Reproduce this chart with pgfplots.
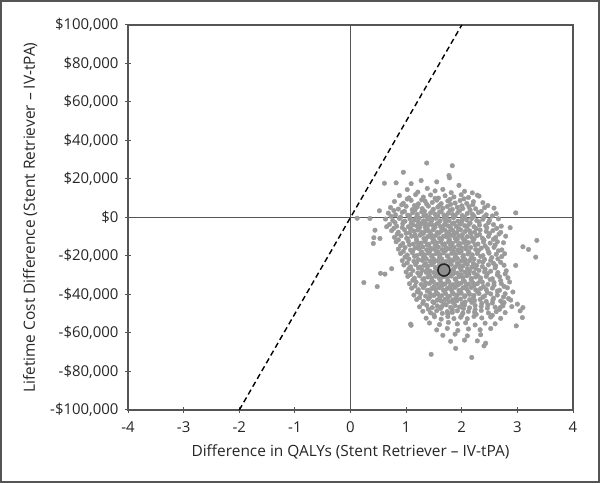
\documentclass[border=0pt]{standalone}
\usepackage{pgfplots}
\pgfplotsset{compat=1.18}
\usepackage{fontspec}
\setmainfont{Open Sans}
\definecolor{txt}{HTML}{262626}
\definecolor{frame}{HTML}{555555}
\definecolor{dots}{HTML}{9A9A9A}
\begin{document}
\begin{tikzpicture}
\path[use as bounding box] (0,0) rectangle (600bp,483bp);
\draw[frame, line width=2bp] (1bp,1bp) rectangle (599bp,482bp);
\begin{axis}[
  at={(128bp,73bp)}, anchor=south west,
  scale only axis, width=445bp, height=385bp,
  xmin=-4, xmax=4, ymin=-100, ymax=100,
  xtick={-4,-3,...,4},
  xticklabels={-4,-3,-2,-1,0,1,2,3,4},
  ytick={-100,-80,...,100},
  yticklabels={{-\$100,000},{-\$80,000},{-\$60,000},{-\$40,000},{-\$20,000},{\$0},{\$20,000},{\$40,000},{\$60,000},{\$80,000},{\$100,000}},
  tick align=center, major tick length=6bp,
  xtick pos=bottom, ytick pos=left,
  axis line style={frame, line width=1.4bp},
  tick style={frame, line width=1bp},
  tick label style={font=\fontsize{15}{18}\selectfont, text=txt},
  xticklabel style={yshift=-5bp},
  yticklabel style={xshift=-3bp},
  label style={font=\fontsize{15.5}{18}\selectfont, text=txt},
  xlabel={Difference in QALYs (Stent Retriever – IV-tPA)},
  ylabel={Lifetime Cost Difference (Stent Retriever – IV-tPA)},
  xlabel style={yshift=-5bp},
  ylabel style={yshift=6bp},
  clip=true,
]
\addplot[frame, line width=1.2bp] coordinates {(0,-100) (0,100)};
\addplot[frame, line width=1.2bp] coordinates {(-4,0) (4,0)};
\addplot[black, line width=1.4bp, dash pattern=on 5.5bp off 3.5bp] coordinates {(-2,-100) (2,100)};
\addplot[dots, only marks, mark=*, mark size=2.3bp, mark options={draw=none, fill=dots}] coordinates {
(1.02,14.5)(1.21,13.2)(1.38,15.1)(1.52,13.8)(1.66,14.6)(1.81,12.9)(2.05,13.6)
(0.88,11.4)(1.05,10.2)(1.17,11.9)(1.31,10.6)(1.44,11.7)(1.58,10.1)(1.70,11.3)(1.86,10.7)(1.99,11.8)(2.12,10.4)(2.31,11.1)
(0.79,8.3)(0.95,7.4)(1.09,8.9)(1.22,7.1)(1.34,8.5)(1.47,7.8)(1.55,9.0)(1.63,7.2)(1.75,8.6)(1.88,7.5)(1.97,8.8)(2.09,7.3)(2.21,8.2)(2.38,7.7)
(0.72,5.2)(0.86,4.4)(1.00,5.8)(1.11,4.1)(1.20,5.5)(1.29,4.6)(1.40,5.9)(1.49,4.3)(1.57,5.4)(1.66,4.8)(1.74,5.7)(1.83,4.2)(1.92,5.3)(2.02,4.7)(2.13,5.6)(2.25,4.5)(2.41,5.1)(2.58,4.9)
(0.68,2.3)(0.81,1.4)(0.93,2.7)(1.03,1.2)(1.12,2.5)(1.20,1.6)(1.28,2.9)(1.36,1.1)(1.44,2.4)(1.52,1.7)(1.60,2.8)(1.68,1.3)(1.76,2.2)(1.84,1.5)(1.93,2.6)(2.01,1.0)(2.10,2.1)(2.19,1.8)(2.30,2.6)(2.44,1.4)(2.62,2.0)
(0.63,-0.8)(0.76,-1.6)(0.88,-0.5)(0.98,-1.9)(1.07,-0.7)(1.15,-1.4)(1.23,-0.3)(1.31,-1.8)(1.38,-0.9)(1.46,-1.2)(1.53,-0.4)(1.61,-1.7)(1.69,-0.6)(1.77,-1.5)(1.85,-0.2)(1.93,-1.9)(2.01,-0.8)(2.09,-1.3)(2.18,-0.5)(2.27,-1.6)(2.38,-0.9)(2.50,-1.4)(2.66,-0.7)
(0.70,-3.6)(0.83,-4.5)(0.94,-3.2)(1.04,-4.8)(1.12,-3.9)(1.19,-4.3)(1.27,-3.4)(1.34,-4.9)(1.41,-3.7)(1.48,-4.1)(1.55,-3.3)(1.62,-4.7)(1.69,-3.8)(1.76,-4.4)(1.83,-3.1)(1.90,-4.6)(1.97,-3.5)(2.05,-4.2)(2.13,-3.6)(2.22,-4.8)(2.32,-3.9)(2.43,-4.3)(2.57,-3.7)(2.71,-4.5)
(0.74,-6.8)(0.86,-7.6)(0.97,-6.4)(1.06,-7.9)(1.14,-7.0)(1.21,-6.5)(1.28,-7.7)(1.35,-6.9)(1.42,-7.4)(1.49,-6.3)(1.56,-7.8)(1.63,-7.1)(1.70,-6.6)(1.77,-7.5)(1.84,-6.7)(1.91,-7.9)(1.98,-6.4)(2.06,-7.3)(2.14,-6.9)(2.23,-7.6)(2.33,-6.5)(2.44,-7.2)(2.56,-6.8)(2.70,-7.7)
(0.79,-10.3)(0.91,-9.5)(1.01,-10.8)(1.10,-9.7)(1.18,-10.5)(1.25,-9.2)(1.32,-10.9)(1.39,-9.9)(1.46,-10.4)(1.53,-9.4)(1.60,-10.7)(1.67,-9.8)(1.74,-10.2)(1.81,-9.3)(1.88,-10.6)(1.95,-9.6)(2.02,-10.9)(2.10,-9.9)(2.18,-10.3)(2.27,-9.5)(2.37,-10.7)(2.48,-9.8)(2.61,-10.4)
(0.82,-12.6)(0.94,-13.5)(1.04,-12.3)(1.13,-13.8)(1.20,-12.9)(1.27,-13.3)(1.34,-12.4)(1.41,-13.9)(1.48,-12.7)(1.55,-13.2)(1.62,-12.5)(1.69,-13.7)(1.76,-12.8)(1.83,-13.4)(1.90,-12.2)(1.97,-13.6)(2.04,-12.9)(2.12,-13.1)(2.20,-12.4)(2.29,-13.8)(2.39,-12.7)(2.51,-13.3)(2.64,-12.6)
(0.86,-16.4)(0.98,-15.6)(1.08,-16.9)(1.16,-15.8)(1.23,-16.2)(1.30,-15.3)(1.37,-16.8)(1.44,-15.9)(1.51,-16.5)(1.58,-15.4)(1.65,-16.7)(1.72,-15.7)(1.79,-16.3)(1.86,-15.5)(1.93,-16.9)(2.00,-15.8)(2.08,-16.4)(2.16,-15.6)(2.25,-16.6)(2.35,-15.9)(2.46,-16.2)(2.58,-15.5)(2.72,-16.8)
(0.90,-18.7)(1.02,-19.5)(1.11,-18.3)(1.19,-19.8)(1.26,-18.9)(1.33,-19.4)(1.40,-18.5)(1.47,-19.7)(1.54,-18.8)(1.61,-19.3)(1.68,-18.4)(1.75,-19.9)(1.82,-18.6)(1.89,-19.2)(1.96,-18.3)(2.03,-19.6)(2.11,-18.9)(2.19,-19.4)(2.28,-18.7)(2.38,-19.8)(2.49,-18.5)(2.62,-19.1)(2.77,-18.8)
(0.93,-22.4)(1.05,-21.6)(1.14,-22.8)(1.22,-21.9)(1.29,-22.3)(1.36,-21.4)(1.43,-22.7)(1.50,-21.8)(1.57,-22.5)(1.64,-21.5)(1.71,-22.9)(1.78,-21.7)(1.85,-22.2)(1.92,-21.3)(1.99,-22.6)(2.06,-21.9)(2.14,-22.4)(2.22,-21.6)(2.31,-22.8)(2.41,-21.8)(2.52,-22.3)(2.65,-21.5)
(0.96,-24.7)(1.08,-25.6)(1.17,-24.4)(1.25,-25.8)(1.32,-24.9)(1.39,-25.3)(1.46,-24.5)(1.53,-25.9)(1.60,-24.6)(1.74,-25.4)(1.81,-24.3)(1.88,-25.7)(1.95,-24.8)(2.02,-25.2)(2.10,-24.4)(2.18,-25.8)(2.27,-24.9)(2.37,-25.5)(2.48,-24.6)(2.61,-25.1)(2.76,-24.8)
(1.00,-28.3)(1.12,-27.6)(1.21,-28.8)(1.29,-27.4)(1.36,-28.5)(1.43,-27.9)(1.50,-28.6)(1.57,-27.5)(1.78,-28.2)(1.85,-27.7)(1.92,-28.9)(1.99,-27.3)(2.06,-28.4)(2.14,-27.8)(2.22,-28.7)(2.31,-27.5)(2.41,-28.3)(2.52,-27.9)(2.65,-28.6)(2.80,-27.7)
(1.03,-30.6)(1.15,-31.5)(1.24,-30.3)(1.32,-31.8)(1.39,-30.9)(1.46,-31.4)(1.53,-30.5)(1.60,-31.7)(1.67,-30.8)(1.74,-31.3)(1.81,-30.4)(1.88,-31.9)(1.95,-30.7)(2.02,-31.2)(2.09,-30.3)(2.17,-31.6)(2.25,-30.9)(2.34,-31.4)(2.44,-30.6)(2.55,-31.8)(2.68,-30.8)(2.83,-31.3)
(1.06,-34.4)(1.18,-33.6)(1.27,-34.8)(1.35,-33.9)(1.42,-34.3)(1.49,-33.4)(1.56,-34.7)(1.63,-33.8)(1.70,-34.5)(1.77,-33.5)(1.84,-34.9)(1.91,-33.7)(1.98,-34.2)(2.05,-33.3)(2.12,-34.6)(2.20,-33.9)(2.28,-34.4)(2.37,-33.6)(2.47,-34.8)(2.58,-33.8)(2.71,-34.3)(2.86,-33.5)
(1.10,-36.7)(1.22,-37.5)(1.31,-36.4)(1.39,-37.8)(1.46,-36.9)(1.53,-37.3)(1.60,-36.5)(1.67,-37.7)(1.74,-36.8)(1.81,-37.4)(1.88,-36.3)(1.95,-37.9)(2.02,-36.6)(2.09,-37.2)(2.17,-36.4)(2.25,-37.6)(2.34,-36.9)(2.44,-37.4)(2.55,-36.7)(2.68,-37.8)(2.82,-36.5)
(1.14,-40.3)(1.26,-39.6)(1.35,-40.8)(1.43,-39.4)(1.50,-40.5)(1.57,-39.8)(1.64,-40.6)(1.71,-39.5)(1.78,-40.9)(1.85,-39.7)(1.92,-40.2)(1.99,-39.3)(2.06,-40.7)(2.14,-39.9)(2.22,-40.4)(2.31,-39.5)(2.41,-40.8)(2.52,-39.7)(2.64,-40.3)(2.78,-39.6)
(1.19,-42.6)(1.31,-43.5)(1.40,-42.3)(1.48,-43.8)(1.56,-42.9)(1.63,-43.4)(1.70,-42.5)(1.77,-43.7)(1.84,-42.8)(1.91,-43.3)(1.98,-42.4)(2.06,-43.9)(2.14,-42.7)(2.23,-43.2)(2.33,-42.6)(2.44,-43.6)(2.56,-42.8)(2.70,-43.4)(2.88,-42.9)
(1.24,-46.4)(1.37,-45.6)(1.47,-46.8)(1.56,-45.9)(1.64,-46.3)(1.72,-45.4)(1.80,-46.7)(1.88,-45.8)(1.96,-46.5)(2.05,-45.5)(2.14,-46.9)(2.24,-45.7)(2.35,-46.2)(2.47,-45.4)(2.60,-46.6)(2.74,-45.9)(2.90,-46.3)
(1.30,-48.7)(1.44,-49.5)(1.55,-48.4)(1.65,-49.8)(1.74,-48.9)(1.83,-49.3)(1.92,-48.5)(2.02,-49.7)(2.12,-48.8)(2.23,-49.2)(2.35,-48.3)(2.48,-49.6)(2.62,-48.9)(2.78,-49.4)
(1.36,-52.3)(1.51,-51.6)(1.63,-52.8)(1.75,-51.5)(1.86,-52.5)(1.98,-51.8)(2.10,-52.6)(2.22,-51.4)(2.36,-52.2)(2.52,-51.7)(2.70,-52.4)
(1.42,-54.8)(1.60,-55.6)(1.76,-54.5)(1.92,-55.3)(2.07,-54.7)(2.24,-55.8)(2.42,-54.9)(2.60,-55.2)
(1.55,-58.4)(1.74,-57.6)(1.93,-58.7)(2.12,-57.9)(2.33,-58.3)(2.52,-57.7)
(1.66,-61.2)(1.88,-60.6)(2.10,-61.5)(2.34,-60.9)
(1.80,-64.3)(2.05,-63.7)(2.28,-64.1)
(1.02,9.6)(1.28,9.2)(1.52,9.9)(1.79,9.4)(2.04,9.7)
(0.92,6.6)(1.15,6.2)(1.37,6.9)(1.60,6.3)(1.80,6.8)(2.00,6.1)(2.20,6.7)
(0.78,3.6)(0.97,3.2)(1.16,3.9)(1.33,3.3)(1.48,3.8)(1.63,3.1)(1.79,3.7)(1.96,3.4)(2.15,3.9)(2.35,3.2)
(0.73,0.6)(0.90,0.2)(1.06,0.9)(1.19,0.3)(1.32,0.8)(1.42,0.1)(1.57,0.7)(1.72,0.4)(1.88,0.9)(2.05,0.2)(2.22,0.7)(2.40,0.3)(2.55,0.8)
(0.80,-2.6)(0.95,-2.2)(1.09,-2.9)(1.22,-2.3)(1.34,-2.8)(1.45,-2.1)(1.58,-2.7)(1.71,-2.4)(1.86,-2.9)(2.00,-2.2)(2.15,-2.8)(2.31,-2.3)(2.48,-2.7)
(0.78,-5.6)(0.93,-5.2)(1.08,-5.9)(1.24,-5.3)(1.38,-5.8)(1.52,-5.1)(1.66,-5.7)(1.80,-5.4)(1.94,-5.9)(2.09,-5.2)(2.26,-5.8)(2.45,-5.3)(2.63,-5.6)
(0.84,-8.6)(1.00,-8.2)(1.16,-8.9)(1.31,-8.3)(1.45,-8.8)(1.59,-8.1)(1.73,-8.7)(1.87,-8.4)(2.01,-8.9)(2.16,-8.2)(2.32,-8.8)(2.50,-8.3)(2.67,-8.6)
(0.86,-11.6)(1.03,-11.2)(1.19,-11.9)(1.35,-11.3)(1.50,-11.8)(1.64,-11.1)(1.78,-11.7)(1.92,-11.4)(2.06,-11.9)(2.22,-11.2)(2.40,-11.8)(2.57,-11.3)
(0.90,-14.6)(1.06,-14.2)(1.22,-14.9)(1.38,-14.3)(1.52,-14.8)(1.66,-14.1)(1.80,-14.7)(1.94,-14.4)(2.08,-14.9)(2.24,-14.2)(2.42,-14.8)(2.60,-14.3)
(0.95,-17.6)(1.12,-17.2)(1.28,-17.9)(1.43,-17.3)(1.57,-17.8)(1.71,-17.1)(1.85,-17.7)(1.99,-17.4)(2.13,-17.9)(2.30,-17.2)(2.48,-17.8)(2.66,-17.3)
(0.98,-20.6)(1.15,-20.2)(1.31,-20.9)(1.46,-20.3)(1.60,-20.8)(1.74,-20.1)(1.88,-20.7)(2.02,-20.4)(2.17,-20.9)(2.34,-20.2)(2.54,-20.8)(2.72,-20.3)
(1.02,-23.6)(1.19,-23.2)(1.35,-23.9)(1.50,-23.3)(1.64,-23.8)(1.78,-23.1)(1.92,-23.7)(2.06,-23.4)(2.21,-23.9)(2.38,-23.2)(2.57,-23.8)(2.70,-23.3)
(1.05,-26.6)(1.22,-26.2)(1.38,-26.9)(1.53,-26.3)(1.85,-26.8)(1.97,-26.1)(2.10,-26.7)(2.25,-26.4)(2.42,-26.9)(2.60,-26.2)
(1.08,-29.6)(1.26,-29.2)(1.42,-29.9)(1.57,-29.3)(1.71,-29.8)(1.85,-29.1)(1.99,-29.7)(2.13,-29.4)(2.28,-29.9)(2.46,-29.2)(2.64,-29.8)(2.78,-29.3)
(1.12,-32.6)(1.30,-32.2)(1.46,-32.9)(1.61,-32.3)(1.75,-32.8)(1.89,-32.1)(2.03,-32.7)(2.17,-32.4)(2.33,-32.9)(2.51,-32.2)(2.70,-32.8)
(1.16,-35.6)(1.34,-35.2)(1.50,-35.9)(1.65,-35.3)(1.79,-35.8)(1.93,-35.1)(2.07,-35.7)(2.22,-35.4)(2.39,-35.9)(2.58,-35.2)(2.76,-35.8)
(1.20,-38.6)(1.38,-38.2)(1.54,-38.9)(1.69,-38.3)(1.83,-38.8)(1.97,-38.1)(2.12,-38.7)(2.28,-38.4)(2.46,-38.9)(2.64,-38.2)
(1.24,-41.6)(1.43,-41.2)(1.60,-41.9)(1.75,-41.3)(1.90,-41.8)(2.05,-41.1)(2.21,-41.7)(2.38,-41.4)(2.57,-41.9)(2.75,-41.3)
(1.30,-44.6)(1.50,-44.2)(1.68,-44.9)(1.85,-44.3)(2.01,-44.8)(2.18,-44.1)(2.36,-44.7)(2.55,-44.4)(2.74,-44.9)
(1.40,-47.6)(1.62,-47.2)(1.83,-47.9)(2.03,-47.3)(2.24,-47.8)(2.46,-47.1)(2.68,-47.7)
(1.50,-50.6)(1.75,-50.2)(2.00,-50.9)(2.26,-50.3)(2.55,-50.8)
(1.37,28.3)(1.83,26.9)(0.95,23.5)(1.77,21.8)(1.78,20.6)(0.61,17.8)(0.82,18.0)(1.09,17.6)(1.27,19.2)(1.55,18.5)(1.95,16.7)
(2.19,12.8)(2.28,11.6)(2.47,6.2)(2.97,2.4)(0.52,3.5)(0.35,-0.5)(0.12,-0.4)(0.44,-6.6)(0.42,-10.5)(0.41,-13.5)(0.53,-10.9)(0.65,-4.8)
(0.24,-33.8)(0.48,-35.9)(0.54,-29.0)(0.62,-29.4)(0.74,-26.6)(1.08,-55.4)(1.09,-56.0)(1.45,-71.1)(1.89,-68.0)(2.18,-72.7)(2.40,-66.7)(2.43,-65.3)
(3.35,-11.9)(3.10,-15.2)(3.20,-16.6)(3.33,-20.6)(2.97,-24.9)(3.10,-46.8)(3.09,-52.0)(2.98,-56.3)(2.87,-5.3)(2.79,-9.7)(2.75,-13.1)
(2.92,-38.7)(2.84,-42.1)(2.76,-44.2)(2.69,-46.8)(3.00,-45.0)(3.05,-48.5)
};
\addplot[black, only marks, mark=*, mark size=6bp, mark options={draw=black!85, line width=1.6bp, fill=dots!92!black}] coordinates {(1.68,-27.3)};
\end{axis}
\end{tikzpicture}
\end{document}
